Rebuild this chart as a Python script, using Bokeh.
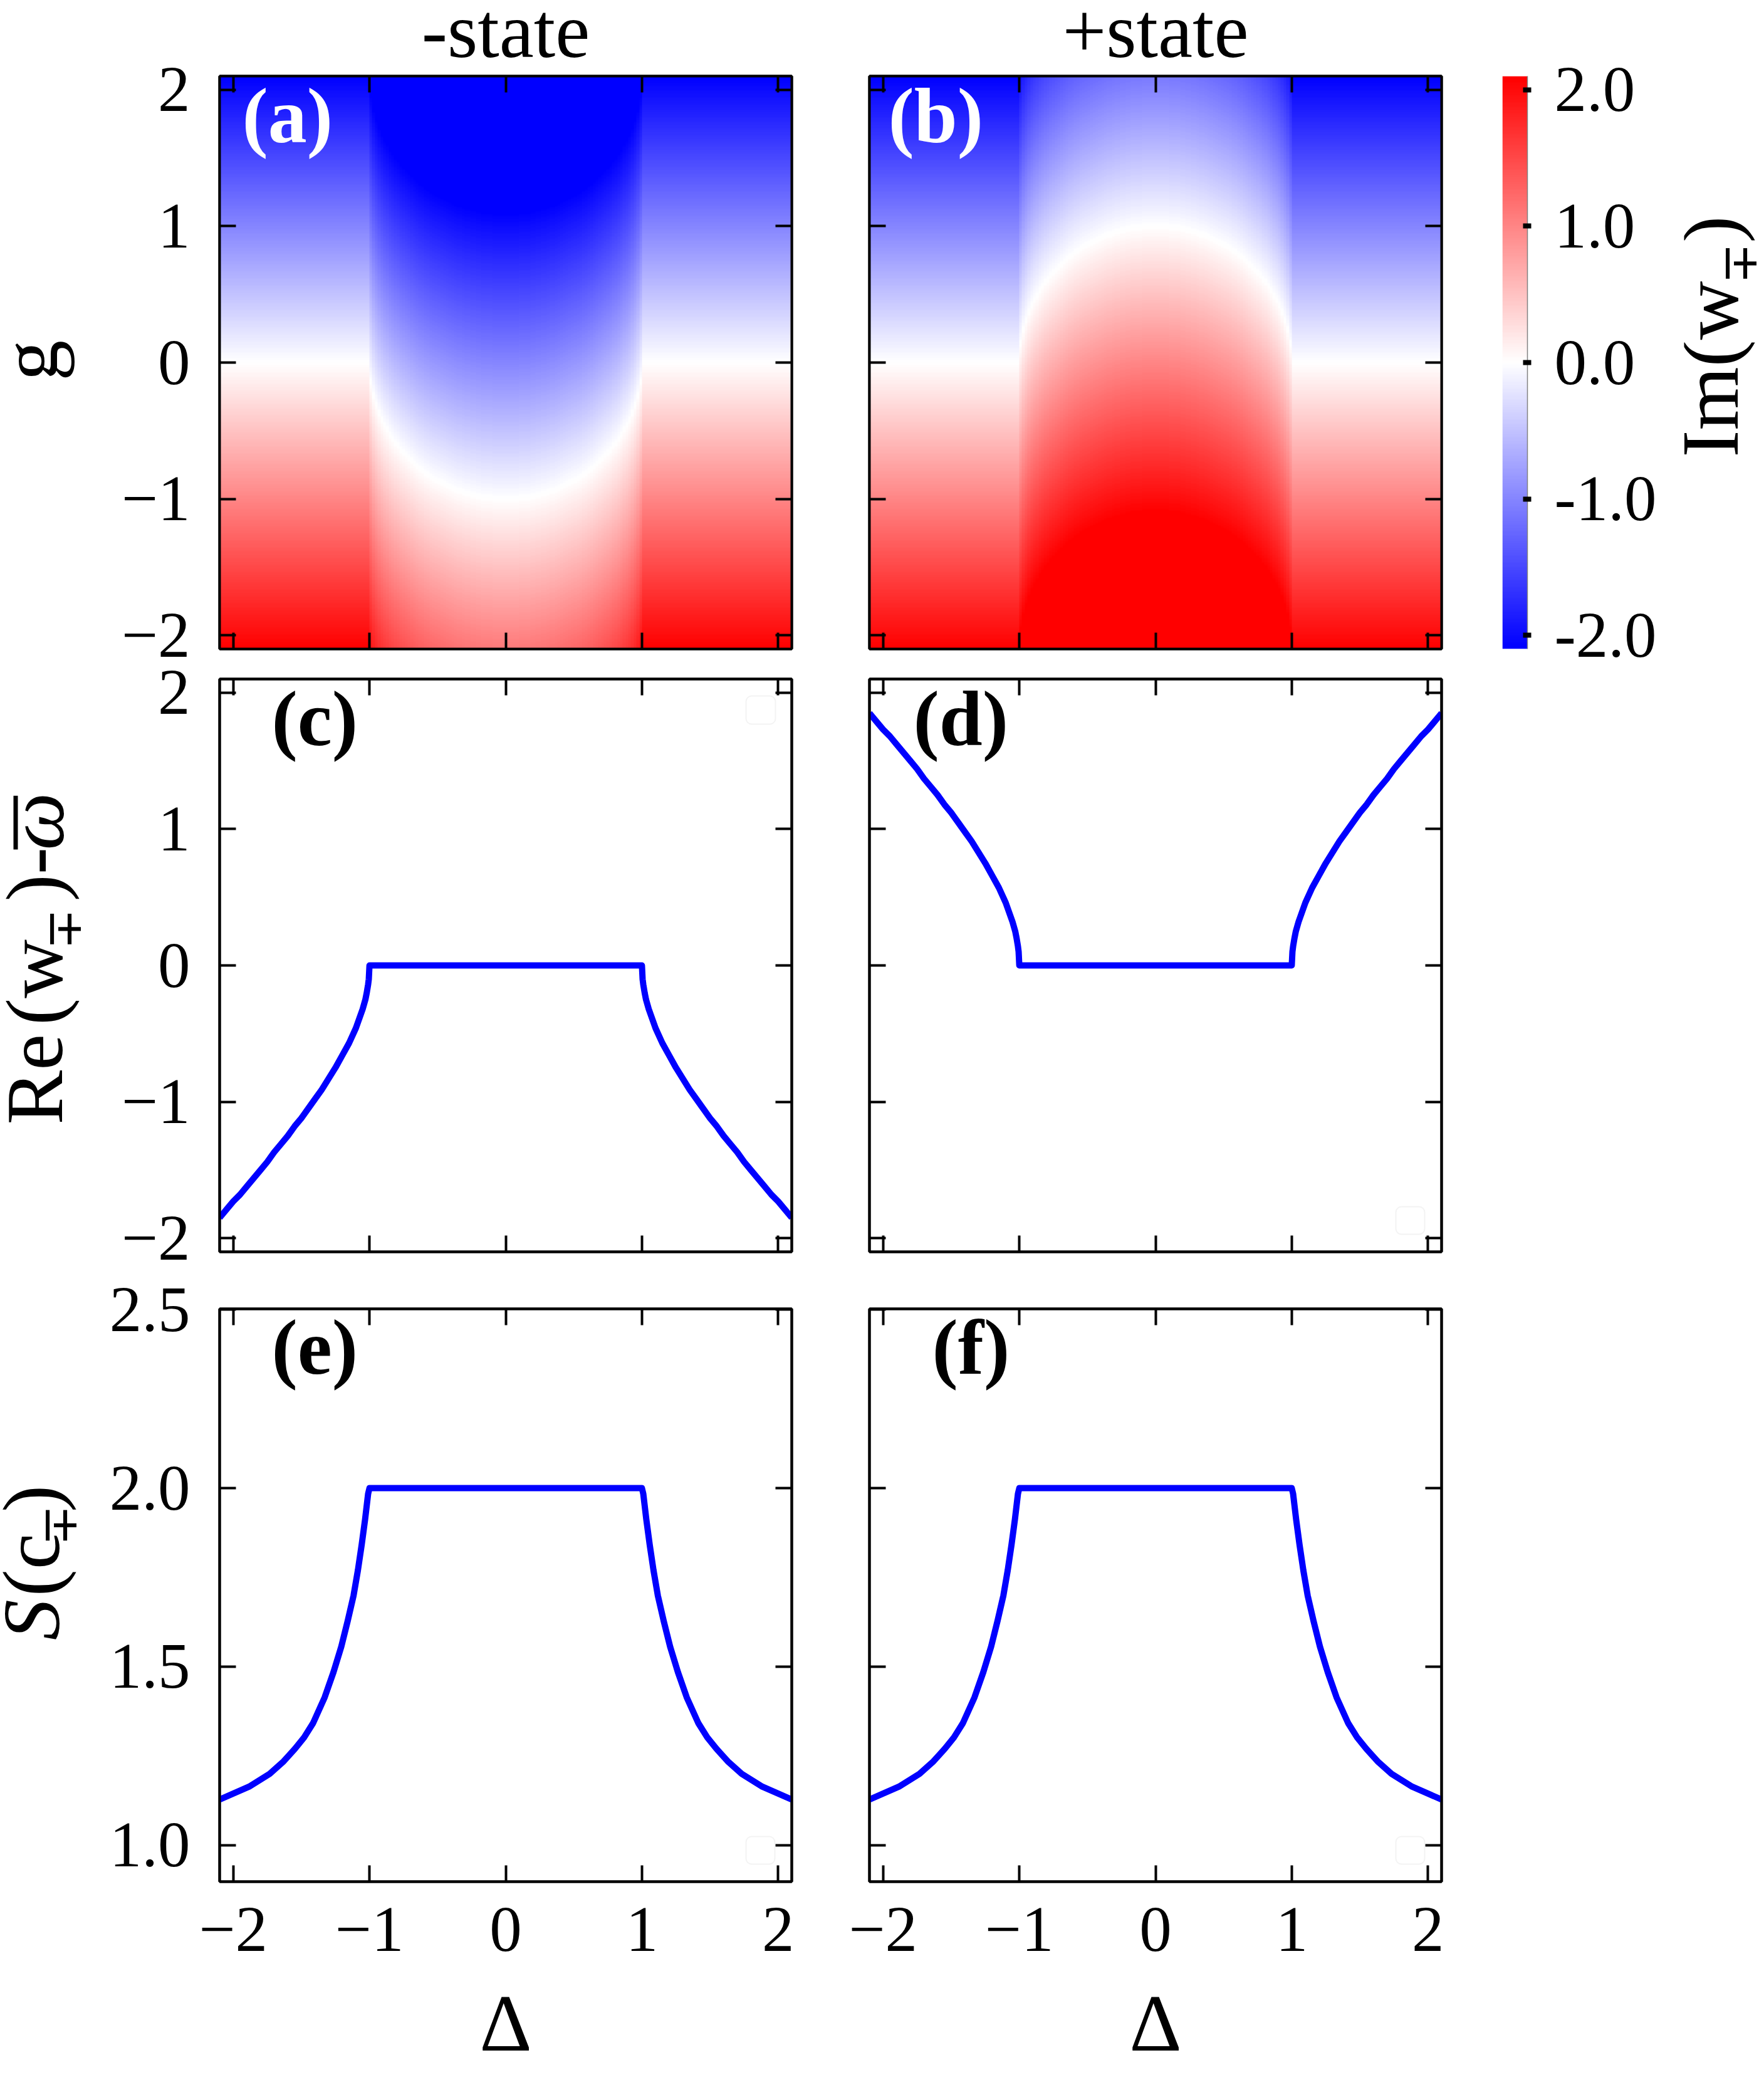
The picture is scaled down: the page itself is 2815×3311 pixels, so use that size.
import numpy as np
from bokeh.plotting import figure
from bokeh.models import LinearAxis, FixedTicker, LinearColorMapper, Label, BoxAnnotation, Range1d
from bokeh.core.properties import value
from bokeh.layouts import column, row
from bokeh.embed import file_html
from bokeh.resources import INLINE

# ---------------- data ----------------
delta_ticks = [-2, -1, 0, 1, 2]
g_ticks = [-2, -1, 0, 1, 2]
re_ticks = [-2, -1, 0, 1, 2]
s_ticks = [1.0, 1.5, 2.0, 2.5]
cbar_ticks = [2.0, 1.0, 0.0, -1.0, -2.0]
minus_labels = {-2: "\u22122", -1: "\u22121", 0: "0", 1: "1", 2: "2"}
s_labels = {1.0: "1.0", 1.5: "1.5", 2.0: "2.0", 2.5: "2.5"}
cbar_labels = {2.0: "2.0", 1.0: "1.0", 0.0: "0.0", -1.0: "-1.0", -2.0: "-2.0"}

# heatmaps: half height of the white (Im=0) arc, read at |Delta| = 0.01, 0.03, ... 0.99
arc_half = [1.00, 1.00, 1.00, 1.00, 1.00, 0.99, 0.99, 0.99, 0.99, 0.98,
            0.98, 0.97, 0.97, 0.96, 0.96, 0.95, 0.94, 0.94, 0.93, 0.92,
            0.91, 0.90, 0.89, 0.88, 0.87, 0.86, 0.85, 0.84, 0.82, 0.81,
            0.79, 0.78, 0.76, 0.74, 0.72, 0.70, 0.68, 0.66, 0.64, 0.61,
            0.59, 0.56, 0.53, 0.49, 0.46, 0.42, 0.37, 0.31, 0.24, 0.14]
n_outside = 55  # columns (0.02 wide) with |Delta| > 1 on each side

# Re(w) - omega_bar
delta_re = [-2.1, -2.05, -2.0, -1.95, -1.9, -1.85, -1.8, -1.75, -1.7, -1.65, -1.6, -1.55,
            -1.5, -1.45, -1.4, -1.35, -1.3, -1.25, -1.2, -1.15, -1.1, -1.075, -1.05, -1.03,
            -1.02, -1.01, -1.005, -1.0,
            1.0, 1.005, 1.01, 1.02, 1.03, 1.05, 1.075, 1.1, 1.15, 1.2, 1.25, 1.3, 1.35,
            1.4, 1.45, 1.5, 1.55, 1.6, 1.65, 1.7, 1.75, 1.8, 1.85, 1.9, 1.95, 2.0, 2.05, 2.1]
re_plus = [1.85, 1.79, 1.73, 1.68, 1.62, 1.56, 1.50, 1.44, 1.37, 1.31, 1.25, 1.18,
           1.12, 1.05, 0.98, 0.91, 0.83, 0.75, 0.66, 0.57, 0.46, 0.39, 0.32, 0.25,
           0.20, 0.14, 0.10, 0.0,
           0.0, 0.10, 0.14, 0.20, 0.25, 0.32, 0.39, 0.46, 0.57, 0.66, 0.75, 0.83, 0.91,
           0.98, 1.05, 1.12, 1.18, 1.25, 1.31, 1.37, 1.44, 1.50, 1.56, 1.62, 1.68, 1.73,
           1.79, 1.85]
re_minus = [-1.85, -1.79, -1.73, -1.68, -1.62, -1.56, -1.50, -1.44, -1.37, -1.31, -1.25, -1.18,
            -1.12, -1.05, -0.98, -0.91, -0.83, -0.75, -0.66, -0.57, -0.46, -0.39, -0.32, -0.25,
            -0.20, -0.14, -0.10, 0.0,
            0.0, -0.10, -0.14, -0.20, -0.25, -0.32, -0.39, -0.46, -0.57, -0.66, -0.75, -0.83,
            -0.91, -0.98, -1.05, -1.12, -1.18, -1.25, -1.31, -1.37, -1.44, -1.50, -1.56, -1.62,
            -1.68, -1.73, -1.79, -1.85]

# S(c)
delta_s = [-2.1, -1.884, -1.733, -1.63, -1.545, -1.48, -1.414, -1.329, -1.264, -1.207,
           -1.16, -1.117, -1.085, -1.057, -1.032, -1.01, -1.0,
           1.0, 1.01, 1.032, 1.057, 1.085, 1.117, 1.16, 1.207, 1.264, 1.329, 1.414, 1.48,
           1.545, 1.63, 1.733, 1.884, 2.1]
s_minus = [1.128, 1.164, 1.200, 1.235, 1.271, 1.302, 1.342, 1.414, 1.485, 1.556,
           1.628, 1.699, 1.770, 1.842, 1.913, 1.984, 2.0,
           2.0, 1.984, 1.913, 1.842, 1.770, 1.699, 1.628, 1.556, 1.485, 1.414, 1.342, 1.302,
           1.271, 1.235, 1.200, 1.164, 1.128]
s_plus = [1.128, 1.164, 1.200, 1.235, 1.271, 1.302, 1.342, 1.414, 1.485, 1.556,
          1.628, 1.699, 1.770, 1.842, 1.913, 1.984, 2.0,
          2.0, 1.984, 1.913, 1.842, 1.770, 1.699, 1.628, 1.556, 1.485, 1.414, 1.342, 1.302,
          1.271, 1.235, 1.200, 1.164, 1.128]

# ---------------- style / layout ----------------
FONT = "Liberation Serif"
SUB_FONT = "DejaVu Serif"
TICK_PX = 103
LAB_PX = 130
SUB_PX = 78
BASE_SHIFT = 0.37   # offset of Bokeh's alphabetic anchor (in em)
FW, FH = 913, 914
XR = (-2.1, 2.1)
GR = (-2.1, 2.1)
SR = (0.898, 2.502)
VMIN, VMAX = -2.1, 2.1

palette = []
for i in range(256):
    t = i / 255.0
    if t < 0.5:
        r = gg = int(round(255 * 2 * t)); b = 255
    else:
        r = 255; gg = b = int(round(255 * 2 * (1 - t)))
    palette.append("#%02x%02x%02x" % (r, gg, b))
mapper = LinearColorMapper(palette=palette, low=VMIN, high=VMAX)

# page layout (pixels)
YLAB_W = 170
COL_L = [350, 1387]
ROW_T = [121, 1083, 2088]
TITLE_H = 108
BORD_COL = [(350 - YLAB_W, 60), (64, 57)]
BORD_ROW = [(121 - TITLE_H, 24), (24, 43), (48, 165)]
ROW_TOP = [TITLE_H, 1059, 2040]
ROW_H = [b[0] + FH + b[1] for b in BORD_ROW]
XLAB_TOP = ROW_TOP[2] + ROW_H[2]
XLAB_H = 3305 - XLAB_TOP
CB_MBR = 250
CBLAB_L = 2437 + CB_MBR
CBLAB_W = 120
TOTAL_W = CBLAB_L + CBLAB_W
FRAMES = {}


def style_axis(ax, ticks, labels=None, standoff=40):
    ax.ticker = FixedTicker(ticks=ticks)
    ax.axis_line_width = 4
    ax.axis_line_color = "black"
    ax.major_tick_in = 26
    ax.major_tick_out = 0
    ax.major_tick_line_width = 4
    ax.major_tick_line_color = "black"
    ax.minor_tick_line_color = None
    ax.major_label_text_font = FONT
    ax.axis_label = None
    if labels is not None:
        ax.major_label_overrides = labels
        ax.major_label_text_font_size = f"{TICK_PX}px"
        ax.major_label_text_color = "black"
        ax.major_label_standoff = standoff
    else:
        ax.major_label_overrides = {t: "" for t in ticks}
        ax.major_label_text_font_size = "0px"
        ax.major_label_standoff = 0


def make_panel(r, c, yr, yticks, xlabels, ylabels):
    mbl, mbr = BORD_COL[c]
    mbt, mbb = BORD_ROW[r]
    p = figure(frame_width=FW, frame_height=FH, x_range=Range1d(*XR), y_range=Range1d(*yr),
               min_border_left=mbl, min_border_right=mbr, min_border_top=mbt,
               min_border_bottom=mbb, toolbar_location=None, tools="", output_backend="svg")
    p.grid.visible = False
    p.outline_line_color = "black"
    p.outline_line_width = 4
    p.background_fill_color = "white"
    p.border_fill_color = "white"
    style_axis(p.below[0], delta_ticks, xlabels, standoff=42)
    style_axis(p.left[0], yticks, ylabels, standoff=47)
    top = LinearAxis()
    style_axis(top, delta_ticks)
    p.add_layout(top, "above")
    right = LinearAxis()
    style_axis(right, yticks)
    p.add_layout(right, "right")
    FRAMES[p.id] = (COL_L[c], ROW_T[r], XR, yr)
    return p


def to_data(p, px, py):
    fl, ft, xr, yr = FRAMES[p.id]
    x = xr[0] + (px - fl) / FW * (xr[1] - xr[0])
    y = yr[1] - (py - ft) / FH * (yr[1] - yr[0])
    return x, y


def panel_text(p, px, py, s, size, color="black"):
    x, y = to_data(p, px, py - BASE_SHIFT * size)
    p.add_layout(Label(x=x, y=y, text=s, text_font=FONT, text_font_size=f"{size}px",
                       text_align="left", text_baseline="alphabetic", text_color=color,
                       text_font_style="bold", level="overlay"))


def legend_box(p, l, t, r_, b):
    x0, y0 = to_data(p, l, b)
    x1, y1 = to_data(p, r_, t)
    p.add_layout(BoxAnnotation(left=x0, right=x1, bottom=y0, top=y1, fill_color="white",
                               fill_alpha=0.8, line_color="#d6d6d6", line_width=2,
                               border_radius=9, level="overlay"))


def text_fig(left, top, w, h):
    f = figure(width=w, height=h, x_range=Range1d(0, w), y_range=Range1d(0, h),
               min_border=0, toolbar_location=None, tools="", output_backend="svg",
               x_axis_location=None, y_axis_location=None)
    f.grid.visible = False
    f.outline_line_color = None
    f.background_fill_color = "white"
    f.border_fill_color = "white"
    FRAMES[f.id] = (left, top, h)
    return f


def fig_text(f, px, py, s, size, rotated=False, align="center", font=FONT, style="normal"):
    """px/py: page position of the baseline (py for horizontal, px for rotated text)."""
    left, top, h = FRAMES[f.id]
    if rotated:
        px = px - BASE_SHIFT * size
        ang = np.pi / 2
    else:
        py = py - BASE_SHIFT * size
        ang = 0.0
    f.text(x=[px - left], y=[top + h - py], text=[s], angle=ang,
           text_font=value(font), text_font_size=value(f"{size}px"), text_font_style=style,
           text_align=align, text_baseline="alphabetic", text_color="black")


def fig_bar(f, px, py0, py1, width):
    left, top, h = FRAMES[f.id]
    f.segment(x0=[px - left], y0=[top + h - py0], x1=[px - left], y1=[top + h - py1],
              line_color="black", line_width=width)


# ---------------- heatmaps ----------------
n_rows = 420
g_centres = np.linspace(GR[0], GR[1], n_rows + 1)[:-1] + (GR[1] - GR[0]) / n_rows / 2
arc_profile = np.array([0.0] * n_outside + arc_half[::-1] + arc_half + [0.0] * n_outside)
im_minus = (-arc_profile)[None, :] - g_centres[:, None]
im_plus = (arc_profile)[None, :] - g_centres[:, None]

pa = make_panel(0, 0, GR, g_ticks, None, minus_labels)
pb = make_panel(0, 1, GR, g_ticks, None, None)
for p, img in ((pa, im_minus), (pb, im_plus)):
    p.image(image=[img], x=XR[0], y=GR[0], dw=XR[1] - XR[0], dh=GR[1] - GR[0],
            color_mapper=mapper, level="image")

# ---------------- line panels ----------------
pc = make_panel(1, 0, GR, re_ticks, None, minus_labels)
pd = make_panel(1, 1, GR, re_ticks, None, None)
pe = make_panel(2, 0, SR, s_ticks, minus_labels, s_labels)
pf = make_panel(2, 1, SR, s_ticks, minus_labels, None)
for p, xs, ys in ((pc, delta_re, re_minus), (pd, delta_re, re_plus),
                  (pe, delta_s, s_minus), (pf, delta_s, s_plus)):
    p.line(xs, ys, line_color="#0000ff", line_width=10, line_join="round")

# ---------------- colorbar ----------------
cb = figure(frame_width=40, frame_height=FH, x_range=Range1d(0, 1), y_range=Range1d(VMIN, VMAX),
            min_border_left=40, min_border_right=CB_MBR, min_border_top=BORD_ROW[0][0],
            min_border_bottom=BORD_ROW[0][1], toolbar_location=None, tools="",
            output_backend="svg", x_axis_location=None, y_axis_location="right")
cb.grid.visible = False
cb.outline_line_color = None
cb.border_fill_color = "white"
cb_vals = np.linspace(VMIN, VMAX, 421)[:, None]
cb.image(image=[cb_vals], x=0, y=VMIN, dw=1, dh=VMAX - VMIN, color_mapper=mapper, level="image")
cax = cb.right[0]
cax.ticker = FixedTicker(ticks=cbar_ticks)
cax.major_label_overrides = cbar_labels
cax.axis_line_color = "#808080"
cax.axis_line_width = 1.5
cax.major_tick_in = 7
cax.major_tick_out = 6
cax.major_tick_line_width = 8
cax.major_tick_line_color = "black"
cax.minor_tick_line_color = None
cax.major_label_text_font = FONT
cax.major_label_text_font_size = f"{TICK_PX}px"
cax.major_label_text_color = "black"
cax.major_label_standoff = 37

# ---------------- text figures ----------------
title_f = text_fig(0, 0, TOTAL_W, TITLE_H)
cx0 = COL_L[0] + FW / 2
cx1 = COL_L[1] + FW / 2
fig_text(title_f, cx0, 95, "-state", 124)
fig_text(title_f, cx1, 95, "+state", 124)

ylab = [text_fig(0, ROW_TOP[i], YLAB_W, ROW_H[i]) for i in range(3)]
# g
fig_text(ylab[0], 95, 580, "g", LAB_PX, rotated=True)
# Re(w_-+) - omega_bar   (pieces start at their lower end, text runs upward)
fig_text(ylab[1], 103, 1822, "Re", LAB_PX, rotated=True, align="left")
fig_text(ylab[1], 103, 1652, "(w", LAB_PX, rotated=True, align="left")
fig_text(ylab[1], 130, 1522, "\u2213", SUB_PX, rotated=True, align="left", font=SUB_FONT)
fig_text(ylab[1], 103, 1440, ")-", LAB_PX, rotated=True, align="left")
fig_text(ylab[1], 105, 1352, "\u03c9", LAB_PX, rotated=True, align="left", style="italic")
fig_bar(ylab[1], 24.5, 1259, 1351, 7)
# S(c_-+)
fig_text(ylab[2], 98, 2692, "S", LAB_PX, rotated=True, align="left", style="italic")
fig_text(ylab[2], 98, 2606, "(c", LAB_PX, rotated=True, align="left")
fig_text(ylab[2], 123, 2506, "\u2213", SUB_PX, rotated=True, align="left", font=SUB_FONT)
fig_text(ylab[2], 98, 2440, ")", LAB_PX, rotated=True, align="left")

cblab = text_fig(CBLAB_L, ROW_TOP[0], CBLAB_W, ROW_H[0])
fig_text(cblab, 2777, 741, "Im(w", LAB_PX, rotated=True, align="left")
fig_text(cblab, 2804, 453, "\u2213", SUB_PX, rotated=True, align="left", font=SUB_FONT)
fig_text(cblab, 2777, 385, ")", LAB_PX, rotated=True, align="left")

xlab_f = text_fig(0, XLAB_TOP, TOTAL_W, XLAB_H)
fig_text(xlab_f, cx0, 3276, "\u0394", LAB_PX)
fig_text(xlab_f, cx1, 3276, "\u0394", LAB_PX)

# panel letters
panel_text(pa, 386, 231, "(a)", 124, color="white")
panel_text(pb, 1417, 231, "(b)", 124, color="white")
panel_text(pc, 433, 1193, "(c)", 124)
panel_text(pd, 1457, 1193, "(d)", 124)
panel_text(pe, 433, 2196, "(e)", 124)
panel_text(pf, 1487, 2196, "(f)", 124)

# empty legend frames
legend_box(pc, 1190, 1110, 1237, 1155)
legend_box(pd, 2227, 1925, 2273, 1969)
legend_box(pe, 1190, 2930, 1236, 2974)
legend_box(pf, 2227, 2930, 2273, 2974)

layout = column(title_f,
                row(ylab[0], pa, pb, cb, cblab),
                row(ylab[1], pc, pd),
                row(ylab[2], pe, pf),
                xlab_f)
open("out.html", "w").write(file_html(layout, INLINE))
